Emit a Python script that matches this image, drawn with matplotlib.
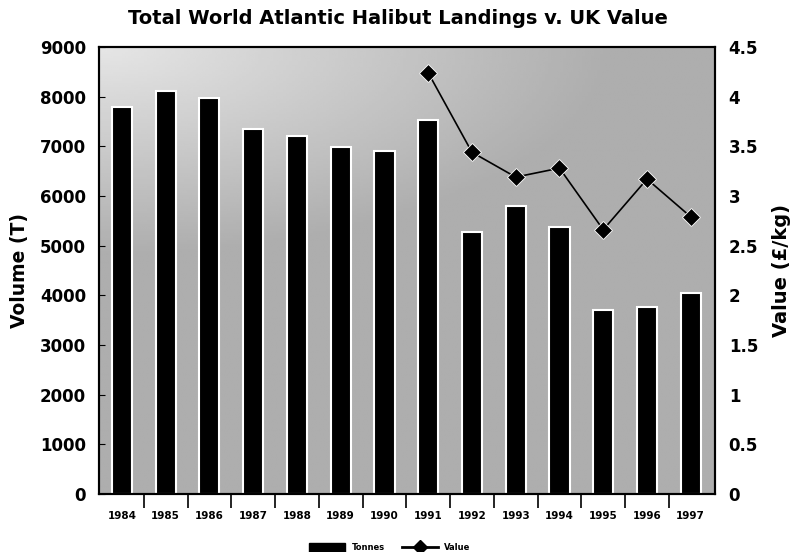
import numpy as np
import matplotlib.pyplot as plt
from matplotlib.ticker import FormatStrFormatter
from matplotlib.patches import Patch
from matplotlib.lines import Line2D

plt.rcParams['font.family'] = 'DejaVu Sans'
plt.rcParams['font.weight'] = 'bold'

# Atlantic halibut landings (tonnes) and UK value (GBP/kg)
years = [1984, 1985, 1986, 1987, 1988, 1989, 1990, 1991, 1992, 1993, 1994, 1995, 1996, 1997]
tonnes = [7800, 8120, 7980, 7340, 7200, 6980, 6900, 7520, 5270, 5790, 5370, 3700, 3760, 4040]
value_years = [1991, 1992, 1993, 1994, 1995, 1996, 1997]
value = [4.24, 3.44, 3.19, 3.28, 2.66, 3.17, 2.79]

fig = plt.figure(figsize=(7.96, 5.52), dpi=100)
ax = fig.add_axes([0.124, 0.105, 0.774, 0.810])

x = np.arange(len(years))
xv = np.array([years.index(y) for y in value_years])

# grey backdrop, fading to near white in the top left corner
gy, gx = np.mgrid[1:0:200j, 0:1:200j]
d = np.hypot(gx * 0.9, (1 - gy) * 1.6)
shade = 0.68 + 0.22 * np.clip(1 - d / 0.75, 0, 1)
ax.imshow(shade, cmap='gray', vmin=0, vmax=1, extent=[0, 1, 0, 1],
          transform=ax.transAxes, aspect='auto', zorder=0, interpolation='bilinear')

ax.bar(x, tonnes, width=0.46, color='black', edgecolor='white', linewidth=1.5, zorder=2)
ax.set_xlim(-0.53, 13.55)
ax.set_ylim(0, 9000)
ax.set_yticks(np.arange(0, 9001, 1000))
ax.set_xticks(x[:-1] + 0.5)
ax.set_xticklabels([])
ax.set_xticks(x, minor=True)
ax.set_xticklabels([str(y) for y in years], minor=True, fontsize=7.5, fontweight='bold')
ax.tick_params(axis='x', which='major', direction='out', length=10, width=1.2)
ax.tick_params(axis='x', which='minor', length=0, pad=12)
ax.tick_params(axis='y', direction='in', length=4, labelsize=12, pad=9)
ax.set_ylabel('Volume (T)', fontsize=13.5, fontweight='bold', labelpad=8)
for s in ax.spines.values():
    s.set_linewidth(1.5)

ax2 = ax.twinx()
ax2.plot(xv, value, color='black', linewidth=1.2, marker='D', markersize=9,
         markerfacecolor='black', markeredgecolor='white', markeredgewidth=0.6, zorder=3)
ax2.set_ylim(0, 4.5)
ax2.set_yticks(np.arange(0, 4.51, 0.5))
ax2.yaxis.set_major_formatter(FormatStrFormatter('%g'))
ax2.tick_params(axis='y', length=0, labelsize=12, pad=10)
ax2.set_ylabel('Value (£/kg)', fontsize=14, fontweight='bold', labelpad=10)
for s in ax2.spines.values():
    s.set_linewidth(1.5)

fig.suptitle('Total World Atlantic Halibut Landings v. UK Value', x=0.5, y=0.983,
             fontsize=14, fontweight='bold')

handles = [Patch(facecolor='black', edgecolor='black'),
           Line2D([], [], color='black', linewidth=2, marker='D', markersize=7)]
fig.legend(handles, ['Tonnes', 'Value'], loc='center', bbox_to_anchor=(0.49, 0.008),
           ncol=2, frameon=False, fontsize=6, handlelength=4.3, handleheight=1.4,
           columnspacing=2)

fig.savefig('out.png', dpi=100, facecolor='white')
